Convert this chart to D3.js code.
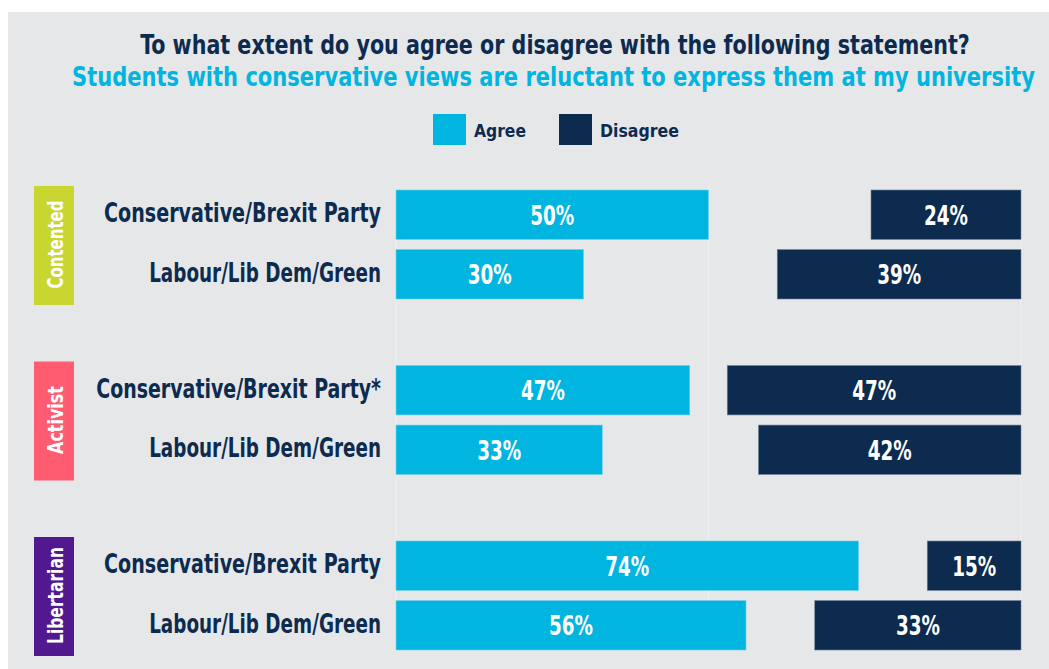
<!DOCTYPE html>
<html><head><meta charset="utf-8">
<script src="https://cdn.jsdelivr.net/npm/d3@7/dist/d3.min.js"></script>
<style>
html,body{margin:0;padding:0;background:#fff;}
svg text{font-family:"Liberation Sans Narrow","DejaVu Sans Condensed","Roboto Condensed",sans-serif;font-weight:bold;}
</style></head>
<body>
<svg id="chart" width="1049" height="669"></svg>
<script>
const title = "To what extent do you agree or disagree with the following statement?";
const subtitle = "Students with conservative views are reluctant to express them at my university";
const seriesNames = ["Agree", "Disagree"];
const groups = ["Contented", "Activist", "Libertarian"];
const groupColors = ["#c8d62f", "#ff5c72", "#52188f"];
const parties = ["Conservative/Brexit Party", "Labour/Lib Dem/Green"];
const rowLabels = [
  ["Conservative/Brexit Party", "Labour/Lib Dem/Green"],
  ["Conservative/Brexit Party*", "Labour/Lib Dem/Green"],
  ["Conservative/Brexit Party", "Labour/Lib Dem/Green"]
];
const agree = [[50, 30], [47, 33], [74, 56]];
const disagree = [[24, 39], [47, 42], [15, 33]];
const gridTicks = [0, 50, 100];

const navy = "#0c2b4e", cyan = "#00b5e0";
const svg = d3.select("#chart");

// draw text squeezed horizontally to a measured width (condensed look)
function fitText(parent, str, px, py, w, opts) {
  const g = parent.append("g");
  const t = g.append("text").attr("font-size", opts.size).attr("fill", opts.fill)
    .attr("text-anchor", opts.anchor || "start").text(str);
  const nat = t.node().getComputedTextLength();
  const sx = Math.min(1.2, w / nat);
  g.attr("transform", `translate(${px},${py})${opts.rotate ? " rotate(" + opts.rotate + ")" : ""} scale(${sx},1)`);
  return g;
}
const rowLabelWidth = t => t.endsWith("*") ? 285 : (t.startsWith("Labour") ? 232 : 277);
const groupLabelWidth = { Contented: 88, Activist: 68, Libertarian: 97 };

svg.append("rect").attr("x", 8).attr("y", 12).attr("width", 1041).attr("height", 657).attr("fill", "#e6e7e9");

const x = d3.scaleLinear().domain([0, 100]).range([396, 1021]);
const y0 = d3.scaleBand().domain(groups).range([190, 190 + 3 * 175.5]);
const y1 = d3.scaleBand().domain(parties).range([0, 109]).paddingInner(0.17);

// gridlines
svg.append("g").selectAll("line").data(gridTicks).join("line")
  .attr("x1", d => x(d)).attr("x2", d => x(d))
  .attr("y1", 186).attr("y2", 652)
  .attr("stroke", "#eeeff0").attr("stroke-width", 1.2);

// titles
fitText(svg, title, 555, 54, 830, { size: 27, fill: navy, anchor: "middle" });
fitText(svg, subtitle, 553.5, 86, 963, { size: 26, fill: cyan, anchor: "middle" });

// legend
const legend = svg.append("g");
const legX = [433, 559];
const legW = [52, 79];
seriesNames.forEach((s, i) => {
  legend.append("rect").attr("x", legX[i]).attr("y", 114).attr("width", 33).attr("height", 31)
    .attr("fill", i === 0 ? cyan : navy);
  fitText(legend, s, legX[i] + 41, 137, legW[i], { size: 18, fill: navy });
});

groups.forEach((g, gi) => {
  const gy = y0(g);
  // group tag
  svg.append("rect").attr("x", 34).attr("y", gy - 4).attr("width", 40).attr("height", 119)
    .attr("fill", groupColors[gi]);
  fitText(svg, g, 63, gy + 54.5, groupLabelWidth[g], { size: 22, fill: "#fff", anchor: "middle", rotate: -90 });

  parties.forEach((p, pi) => {
    const by = gy + y1(p), bh = y1.bandwidth();
    const lbl = rowLabels[gi][pi];
    fitText(svg, lbl, 381, by + bh / 2 + 7.5, rowLabelWidth(lbl), { size: 26, fill: navy, anchor: "end" });
    const a = agree[gi][pi], d = disagree[gi][pi];
    svg.append("rect").attr("x", x(0)).attr("y", by).attr("width", x(a) - x(0)).attr("height", bh)
      .attr("fill", cyan).attr("stroke", "#6fd0ec").attr("stroke-width", 0.6);
    fitText(svg, a + "%", (x(0) + x(a)) / 2, by + bh / 2 + 10, 44, { size: 27, fill: "#fff", anchor: "middle" });
    svg.append("rect").attr("x", x(100 - d)).attr("y", by).attr("width", x(100) - x(100 - d)).attr("height", bh)
      .attr("fill", navy).attr("stroke", "#6f8297").attr("stroke-width", 0.6);
    fitText(svg, d + "%", (x(100 - d) + x(100)) / 2, by + bh / 2 + 10, 44, { size: 27, fill: "#fff", anchor: "middle" });
  });
});
</script>
</body></html>
